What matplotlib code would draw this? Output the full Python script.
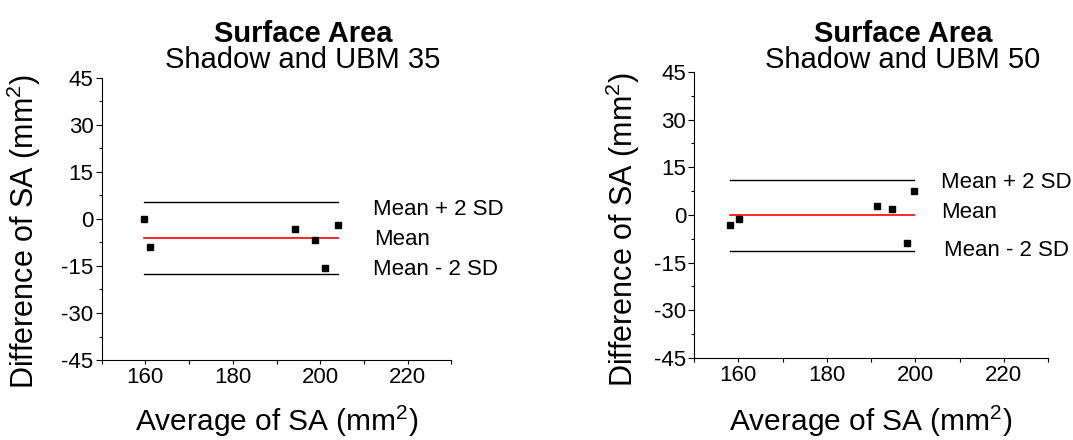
import matplotlib
matplotlib.use("Agg")
import matplotlib.pyplot as plt
from matplotlib.ticker import MultipleLocator, FixedLocator

plt.rcParams['font.family'] = ['Liberation Sans', 'DejaVu Sans']
plt.rcParams['mathtext.fontset'] = 'custom'
plt.rcParams['mathtext.rm'] = 'Liberation Sans'
plt.rcParams['mathtext.it'] = 'Liberation Sans:italic'
plt.rcParams['mathtext.bf'] = 'Liberation Sans:bold'
plt.rcParams['axes.unicode_minus'] = False

# ---- data ----
titles = ["Shadow and UBM 35", "Shadow and UBM 50"]
x35 = [159.6, 161.0, 194.2, 198.7, 201.2, 204.0]
y35 = [0.0, -9.0, -3.2, -6.7, -15.6, -1.9]
x50 = [158.1, 160.2, 191.4, 194.8, 198.1, 199.8]
y50 = [-3.0, -1.3, 2.8, 1.9, -8.8, 7.5]
mean_vals = [-6.0, -0.1]
upper_vals = [5.3, 10.9]
lower_vals = [-17.4, -11.3]
line_labels = ["Mean + 2 SD", "Mean", "Mean - 2 SD"]
xticks = [160, 180, 200, 220]
yticks = [-45, -30, -15, 0, 15, 30, 45]

fig = plt.figure(figsize=(10.73, 4.40), dpi=100)

axes_pos = [[101.5/1073, 80/440, 350/1073, 282/440],
            [694/1073, 82/440, 354/1073, 286/440]]
label_x = [[212.1, 212.3, 212.1], [205.9, 205.9, 206.6]]
label_y = [[1.3, -8.3, -18.0], [8.5, -1.0, -13.0]]
title_cx = [303/1073, 903/1073]
ylab_x = [-0.167, -0.147]
ylab_y = [0.455, 0.45]
xlab_y = [-0.155, -0.160]

datasets = [(x35, y35), (x50, y50)]

for i, (xs, ys) in enumerate(datasets):
    ax = fig.add_axes(axes_pos[i])
    ax.set_xlim(150, 230)
    ax.set_ylim(-45, 45)
    for s in ['top', 'right']:
        ax.spines[s].set_visible(False)
    for s in ['left', 'bottom']:
        ax.spines[s].set_linewidth(0.8)
    ax.xaxis.set_major_locator(FixedLocator(xticks))
    ax.xaxis.set_minor_locator(FixedLocator([150, 170, 190, 210, 230]))
    ax.yaxis.set_major_locator(FixedLocator(yticks))
    ax.yaxis.set_minor_locator(MultipleLocator(7.5))
    ax.tick_params(axis='x', which='major', direction='out', length=3.2, width=0.8,
                   labelsize=16, pad=2.0)
    ax.tick_params(axis='x', which='minor', direction='out', length=3.2, width=0.8)
    ax.tick_params(axis='y', which='major', direction='out', length=4.5, width=0.8,
                   labelsize=16, pad=1.2)
    ax.tick_params(axis='y', which='minor', direction='out', length=2.0, width=0.8)

    x0, x1 = min(xs), max(xs)
    ax.plot([x0, x1], [upper_vals[i]] * 2, color='black', lw=1.0)
    ax.plot([x0, x1], [lower_vals[i]] * 2, color='black', lw=1.0)
    ax.plot([x0, x1], [mean_vals[i]] * 2, color='#ff0000', lw=1.2)
    ax.plot(xs, ys, linestyle='none', marker='s', markersize=4.5,
            color='black', clip_on=False)

    for lab, lx, ly in zip(line_labels, label_x[i], label_y[i]):
        ax.text(lx, ly, lab, fontsize=16, ha='left', va='baseline', clip_on=False)

    ax.set_ylabel(r"Difference of SA (mm$^{2}$)", fontsize=22)
    ax.yaxis.set_label_coords(ylab_x[i], ylab_y[i])
    ax.set_xlabel(r"Average of SA (mm$^{2}$)", fontsize=21.5)
    ax.xaxis.set_label_coords(0.5, xlab_y[i])

    fig.text(title_cx[i], 1 - 42/440, "Surface Area", fontsize=21,
             fontweight='bold', ha='center', va='baseline')
    fig.text(title_cx[i], 1 - 68/440, titles[i], fontsize=21,
             ha='center', va='baseline')

fig.savefig("out.png", dpi=100)
